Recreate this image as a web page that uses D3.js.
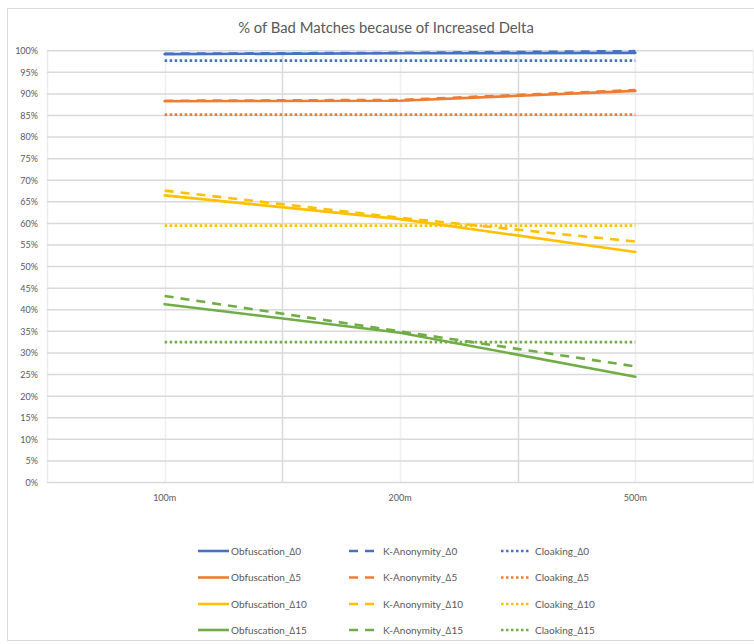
<!DOCTYPE html>
<html>
<head>
<meta charset="utf-8">
<script src="https://cdn.jsdelivr.net/npm/d3@7"></script>
<style>
  html, body { margin: 0; padding: 0; background: #fff; }
  svg { display: block; font-family: Lato, "Open Sans", sans-serif; }
</style>
</head>
<body>
<svg id="chart" width="754" height="644"></svg>
<script>
// Distance settings on the category axis
const categories = ["100m", "200m", "500m"];

// Share of bad matches (%) per method and delta
const obfuscation0  = [99.2, 99.4, 99.5];
const kAnonymity0   = [99.3, 99.5, 99.9];
const cloaking0     = [97.7, 97.7, 97.7];
const obfuscation5  = [88.3, 88.4, 90.7];
const kAnonymity5   = [88.4, 88.6, 90.9];
const cloaking5     = [85.2, 85.2, 85.2];
const obfuscation10 = [66.5, 61.0, 53.4];
const kAnonymity10  = [67.6, 61.3, 55.8];
const cloaking10    = [59.5, 59.5, 59.5];
const obfuscation15 = [41.3, 34.7, 24.5];
const kAnonymity15  = [43.2, 35.0, 26.9];
const cloaking15    = [32.5, 32.5, 32.5];

const yTicks = d3.range(0, 101, 5);

const seriesNames = [
  "Obfuscation_\u22060", "K-Anonymity_\u22060", "Cloaking_\u22060",
  "Obfuscation_\u22065", "K-Anonymity_\u22065", "Cloaking_\u22065",
  "Obfuscation_\u220610", "K-Anonymity_\u220610", "Cloaking_\u220610",
  "Obfuscation_\u220615", "K-Anonymity_\u220615", "Claoking_\u220615"
];
const seriesValues = [
  obfuscation0, kAnonymity0, cloaking0,
  obfuscation5, kAnonymity5, cloaking5,
  obfuscation10, kAnonymity10, cloaking10,
  obfuscation15, kAnonymity15, cloaking15
];

const palette = ["#4472C4", "#ED7D31", "#FFC000", "#70AD47"];
const styles = {
  solid:  { dash: null,      cap: "round" },
  dashed: { dash: "9,7",     cap: "butt"  },
  dotted: { dash: "2.5,2.5", cap: "butt"  }
};
const styleOrder = ["solid", "dashed", "dotted"];

const series = seriesNames.map((name, i) => ({
  name,
  values: seriesValues[i],
  color: palette[Math.floor(i / 3)],
  style: styleOrder[i % 3],
  group: Math.floor(i / 3),
  kind: i % 3
}));

const svg = d3.select("#chart");
const textColor = "#595959";

// Chart frame
svg.append("rect")
  .attr("x", 7.5).attr("y", 8.5)
  .attr("width", 760).attr("height", 632)
  .attr("fill", "#fff").attr("stroke", "#d9d9d9");

// Title
svg.append("text")
  .attr("x", 386).attr("y", 33)
  .attr("text-anchor", "middle")
  .attr("font-size", 14.8)
  .attr("fill", textColor)
  .text("% of Bad Matches because of Increased Delta");

const plot = { left: 47, right: 753, top: 50.7, bottom: 482.5 };

const x = d3.scaleBand().domain(categories).range([plot.left, plot.right]);
const y = d3.scaleLinear().domain([0, 100]).range([plot.bottom, plot.top]);

// Light vertical lines at category centres
svg.append("g")
  .selectAll("line")
  .data(categories)
  .join("line")
  .attr("x1", d => Math.round(x(d) + x.bandwidth() / 2) + 0.5)
  .attr("x2", d => Math.round(x(d) + x.bandwidth() / 2) + 0.5)
  .attr("y1", plot.top).attr("y2", plot.bottom)
  .attr("stroke", "#efefef").attr("stroke-width", 1.5);

// Vertical lines at category boundaries
const boundaries = categories.map(c => x(c)).concat([plot.right]);
svg.append("g")
  .selectAll("line")
  .data(boundaries)
  .join("line")
  .attr("x1", d => Math.round(d) + 0.5)
  .attr("x2", d => Math.round(d) + 0.5)
  .attr("y1", plot.top).attr("y2", plot.bottom)
  .attr("stroke", (d, i) => (i === 0 || i === boundaries.length - 1) ? "#ececec" : "#d9d9d9")
  .attr("stroke-width", 1.5);

// Horizontal gridlines
svg.append("g")
  .selectAll("line")
  .data(yTicks)
  .join("line")
  .attr("x1", plot.left).attr("x2", plot.right)
  .attr("y1", d => y(d)).attr("y2", d => y(d))
  .attr("stroke", "#d9d9d9").attr("stroke-width", 1.5);

// Y axis labels
const yAxis = d3.axisLeft(y)
  .tickValues(yTicks)
  .tickFormat(d => d + "%")
  .tickSize(0)
  .tickPadding(9);
const gy = svg.append("g")
  .attr("transform", `translate(${plot.left},0)`)
  .call(yAxis);
gy.select(".domain").remove();
gy.selectAll("text")
  .attr("font-family", "Lato, 'Open Sans', sans-serif")
  .attr("font-size", 9)
  .attr("fill", textColor);

// X axis labels
const xAxis = d3.axisBottom(x).tickSize(0).tickPadding(12);
const gx = svg.append("g")
  .attr("transform", `translate(0,${plot.bottom})`)
  .call(xAxis);
gx.select(".domain").remove();
gx.selectAll("text")
  .attr("font-family", "Lato, 'Open Sans', sans-serif")
  .attr("font-size", 9)
  .attr("fill", textColor);

// Series lines
const line = d3.line()
  .x((d, i) => x(categories[i]) + x.bandwidth() / 2)
  .y(d => y(d));

svg.append("g")
  .selectAll("path")
  .data(series)
  .join("path")
  .attr("d", d => line(d.values))
  .attr("fill", "none")
  .attr("stroke", d => d.color)
  .attr("stroke-width", 2.6)
  .attr("stroke-dasharray", d => styles[d.style].dash)
  .attr("stroke-linecap", d => styles[d.style].cap);

// Legend: columns by method, rows by delta
const legendCols = [198, 349, 501];
const legendRows = [551, 577.5, 604, 630];
const sampleLen = [31, 27, 30];
const textGap = [33, 34, 34];

const legend = svg.append("g")
  .selectAll("g")
  .data(series)
  .join("g")
  .attr("transform", d => `translate(${legendCols[d.kind]},${legendRows[d.group]})`);

legend.append("line")
  .attr("x1", 0).attr("x2", d => sampleLen[d.kind])
  .attr("y1", 0).attr("y2", 0)
  .attr("stroke", d => d.color)
  .attr("stroke-width", 2.6)
  .attr("stroke-dasharray", d => styles[d.style].dash)
  .attr("stroke-linecap", "butt");

legend.append("text")
  .attr("x", d => textGap[d.kind])
  .attr("y", 0)
  .attr("dy", "0.35em")
  .attr("font-size", 10)
  .attr("fill", textColor)
  .text(d => d.name);
</script>
</body>
</html>
